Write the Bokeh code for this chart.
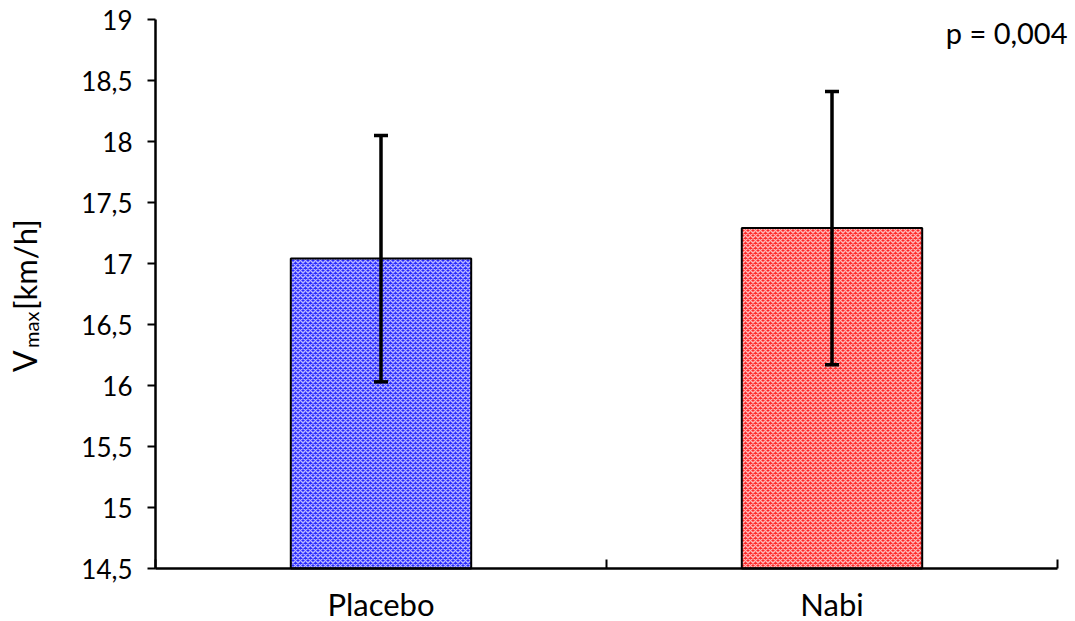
import math
from bokeh.plotting import figure
from bokeh.models import Range1d, FixedTicker, Label, Whisker, ColumnDataSource, TeeHead
from bokeh.embed import file_html
from bokeh.resources import INLINE

categories = ["Placebo", "Nabi"]
means = [17.04, 17.29]
sds = [1.01, 1.12]
bar_colors = ["#2828ff", "#ff2828"]
hatch_colors = ["#b8b8ff", "#ffb8b8"]
y_ticks = [14.5, 15, 15.5, 16, 16.5, 17, 17.5, 18, 18.5, 19]
y_tick_labels = ["14,5", "15", "15,5", "16", "16,5", "17", "17,5", "18", "18,5", "19"]
p_text = "p = 0,004"
y_label_main = "V"
y_label_sub = "max"
y_label_unit = "[km/h]"

FONT = "Lato"
W, H = 1075, 621
# plot-area placement in pixels (layout only)
FL, FR, FT, FB = 155, 1057, 19, 568

n = len(categories)
y0, y1 = y_ticks[0], y_ticks[-1]
xpx = (FR - FL) / n
ypx = (FB - FT) / (y1 - y0)
x_range = Range1d(-FL / xpx, n + (W - FR) / xpx)
y_range = Range1d(y0 - (H - FB) / ypx, y1 + FT / ypx)

xs = [i + 0.5 for i in range(n)]
src = ColumnDataSource(dict(
    x=xs, top=means,
    upper=[m + s for m, s in zip(means, sds)],
    lower=[m - s for m, s in zip(means, sds)],
    color=bar_colors, hatch=hatch_colors,
))

p = figure(width=W, height=H, output_backend="svg", toolbar_location=None,
           x_range=x_range, y_range=y_range,
           min_border=0, min_border_left=0, min_border_right=0,
           min_border_top=0, min_border_bottom=0)
p.outline_line_color = None
p.grid.visible = False
p.background_fill_color = "white"

p.vbar(x="x", top="top", bottom=y0, width=0.4, source=src,
       fill_color="color", line_color="black", line_width=2,
       hatch_pattern="diagonal_cross", hatch_color="hatch", hatch_scale=5, hatch_weight=1.4)

w = Whisker(base="x", upper="upper", lower="lower", source=src, dimension="height",
            line_color="black", line_width=3.5, level="overlay",
            upper_head=TeeHead(size=14, line_width=3.5, line_color="black"),
            lower_head=TeeHead(size=14, line_width=3.5, line_color="black"))
p.add_layout(w)

# y axis
ya = p.yaxis[0]
ya.fixed_location = 0
ya.bounds = (y0, y1)
ya.ticker = FixedTicker(ticks=y_ticks)
ya.major_label_overrides = {t: l for t, l in zip(y_ticks, y_tick_labels)}
ya.axis_line_width = 2.5
ya.major_tick_line_width = 2
ya.major_tick_in = 0
ya.major_tick_out = 8
ya.minor_tick_line_color = None
ya.major_label_standoff = 15
ya.major_label_text_font = FONT
ya.major_label_text_font_size = "26px"
ya.major_label_text_color = "black"

# x axis
xa = p.xaxis[0]
xa.fixed_location = y0
xa.bounds = (0, n)
xa.ticker = FixedTicker(ticks=xs, minor_ticks=list(range(n + 1)))
xa.major_label_overrides = {x: c for x, c in zip(xs, categories)}
xa.axis_line_width = 2.5
xa.major_tick_line_color = None
xa.minor_tick_line_width = 2
xa.minor_tick_in = 9
xa.minor_tick_out = 0
xa.major_label_standoff = 10
xa.major_label_text_font = FONT
xa.major_label_text_font_size = "31px"
xa.major_label_text_color = "black"

# p-value
p.add_layout(Label(x=n, y=y1, x_offset=10, y_offset=-13, text=p_text,
                   text_align="right", text_baseline="alphabetic",
                   text_font=FONT, text_font_size="29px", text_color="black"))

# y label with subscript
ymid = (y0 + y1) / 2
p.add_layout(Label(x=0, y=ymid, x_offset=-131, y_offset=-78, angle=math.pi / 2,
                   text=y_label_main, text_align="left", text_baseline="alphabetic",
                   text_font=FONT, text_font_size="32px", text_color="black"))
p.add_layout(Label(x=0, y=ymid, x_offset=-125, y_offset=-54, angle=math.pi / 2,
                   text=y_label_sub, text_align="left", text_baseline="alphabetic",
                   text_font=FONT, text_font_size="20px", text_color="black"))
p.add_layout(Label(x=0, y=ymid, x_offset=-131, y_offset=-16, angle=math.pi / 2,
                   text=y_label_unit, text_align="left", text_baseline="alphabetic",
                   text_font=FONT, text_font_size="31px", text_color="black"))

open("out.html", "w").write(file_html(p, INLINE))
